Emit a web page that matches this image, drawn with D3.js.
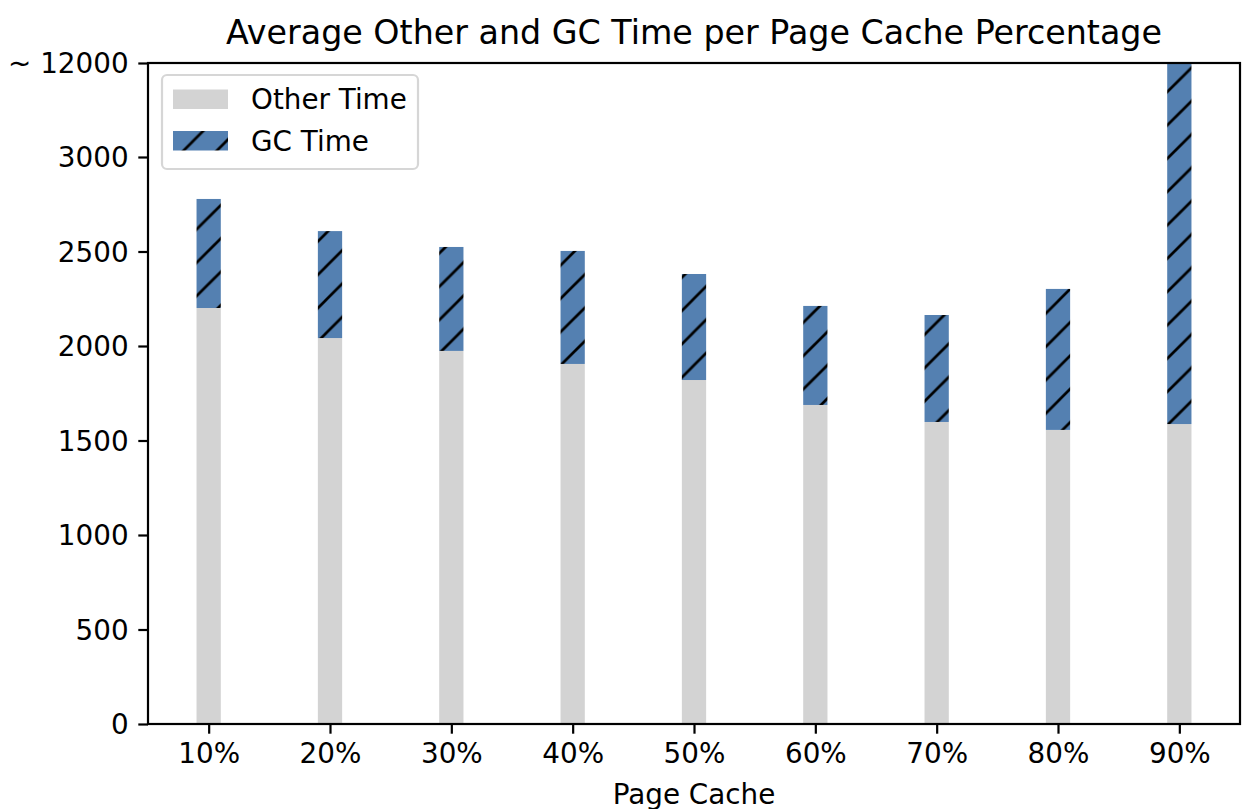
<!DOCTYPE html>
<html>
<head>
<meta charset="utf-8">
<script src="https://cdn.jsdelivr.net/npm/d3@7"></script>
<style>
    body { margin: 0; background: #fff; }
    svg text { font-family: "DejaVu Sans", sans-serif; fill: #000; }
</style>
</head>
<body>
<svg id="chart" width="1245" height="809"></svg>
<script>
var categories = ['10%', '20%', '30%', '40%', '50%', '60%', '70%', '80%', '90%'];
var otherTime = [2201, 2042, 1974, 1905, 1820, 1688, 1598, 1556, 1587];
var gcTime = [577, 566, 550, 598, 561, 524, 566, 746, 10413];
var yTicks = [0, 500, 1000, 1500, 2000, 2500, 3000, 12000];
var legendItems = ['Other Time', 'GC Time'];

var plotLeft = 148, plotRight = 1240, plotTop = 63, plotBottom = 724;
var fontSize = 27.8;
var blue = '#5480b1';
var grey = '#d3d3d3';

var svg = d3.select('#chart');

// hatch '/' like matplotlib, anchored to the page
var defs = svg.append('defs');
var hatch = defs.append('pattern')
    .attr('id', 'hatch')
    .attr('patternUnits', 'userSpaceOnUse')
    .attr('width', 33.33)
    .attr('height', 33.33)
    .attr('patternTransform', 'translate(26,0)');
hatch.append('rect').attr('width', 33.33).attr('height', 33.33).attr('fill', blue);
hatch.selectAll('line')
    .data([[-1, 34.33, 34.33, -1], [-17.7, 17.7, 17.7, -17.7], [15.6, 51, 51, 15.6]])
    .enter().append('line')
    .attr('x1', function (d) { return d[0]; })
    .attr('y1', function (d) { return d[1]; })
    .attr('x2', function (d) { return d[2]; })
    .attr('y2', function (d) { return d[3]; })
    .attr('stroke', '#000')
    .attr('stroke-width', 2.7);

var x = d3.scalePoint().domain(categories).range([plotLeft, plotRight]).padding(0.5);
// broken axis: 0..3000 linear, then squeezed up to ~12000
var y = d3.scaleLinear().domain([0, 3000, 12000]).range([plotBottom, 157, plotTop]);
var barW = x.step() * 0.2;

var rows = categories.map(function (c, i) {
    return { cat: c, other: otherTime[i], gc: gcTime[i] };
});

svg.append('g').selectAll('rect')
    .data(rows)
    .enter().append('rect')
    .attr('x', function (d) { return x(d.cat) - barW / 2; })
    .attr('y', function (d) { return y(d.other); })
    .attr('width', barW)
    .attr('height', function (d) { return y(0) - y(d.other); })
    .attr('fill', grey);

svg.append('g').selectAll('rect')
    .data(rows)
    .enter().append('rect')
    .attr('x', function (d) { return x(d.cat) - barW / 2; })
    .attr('y', function (d) { return y(d.other + d.gc); })
    .attr('width', barW)
    .attr('height', function (d) { return y(d.other) - y(d.other + d.gc); })
    .attr('fill', 'url(#hatch)');

// axes
var yAxis = d3.axisLeft(y)
    .tickValues(yTicks)
    .tickSize(9.7)
    .tickPadding(9.7)
    .tickFormat(function (d) { return d === 12000 ? '~ 12000' : d; });
var gy = svg.append('g').attr('transform', 'translate(' + plotLeft + ',0)').call(yAxis);

var xAxis = d3.axisBottom(x).tickSize(9.7).tickPadding(9.7);
var gx = svg.append('g').attr('transform', 'translate(0,' + plotBottom + ')').call(xAxis);

[gx, gy].forEach(function (g) {
    g.select('.domain').remove();
    g.selectAll('.tick line').attr('stroke', '#000').attr('stroke-width', 2.2);
    g.selectAll('.tick text')
        .style('font-family', '"DejaVu Sans", sans-serif')
        .style('font-size', fontSize + 'px')
        .attr('fill', '#000');
});
gy.selectAll('.tick text').attr('dy', '0.35em');
gx.selectAll('.tick text').attr('dy', '0.72em');

svg.append('rect')
    .attr('x', plotLeft).attr('y', plotTop)
    .attr('width', plotRight - plotLeft).attr('height', plotBottom - plotTop)
    .attr('fill', 'none')
    .attr('stroke', '#000')
    .attr('stroke-width', 2.2);

// title and label
svg.append('text')
    .attr('x', (plotLeft + plotRight) / 2).attr('y', 44.3)
    .attr('text-anchor', 'middle')
    .style('font-size', '33.3px')
    .text('Average Other and GC Time per Page Cache Percentage');

svg.append('text')
    .attr('x', (plotLeft + plotRight) / 2).attr('y', 804)
    .attr('text-anchor', 'middle')
    .style('font-size', fontSize + 'px')
    .text('Page Cache');

// legend
var lg = svg.append('g');
lg.append('rect')
    .attr('x', 162).attr('y', 75)
    .attr('width', 256).attr('height', 94)
    .attr('rx', 5)
    .attr('fill', '#fff').attr('fill-opacity', 0.8)
    .attr('stroke', '#d6d6d6').attr('stroke-width', 2.2);

var li = lg.selectAll('g.item')
    .data(legendItems)
    .enter().append('g')
    .attr('class', 'item')
    .attr('transform', function (d, i) { return 'translate(0,' + (i * 41.5) + ')'; });
li.append('rect')
    .attr('x', 173).attr('y', 89.5)
    .attr('width', 55).attr('height', 19.5)
    .attr('fill', function (d, i) { return i === 0 ? grey : 'url(#hatch)'; });
li.append('text')
    .attr('x', 251).attr('y', 109)
    .style('font-size', fontSize + 'px')
    .text(function (d) { return d; });
</script>
</body>
</html>
